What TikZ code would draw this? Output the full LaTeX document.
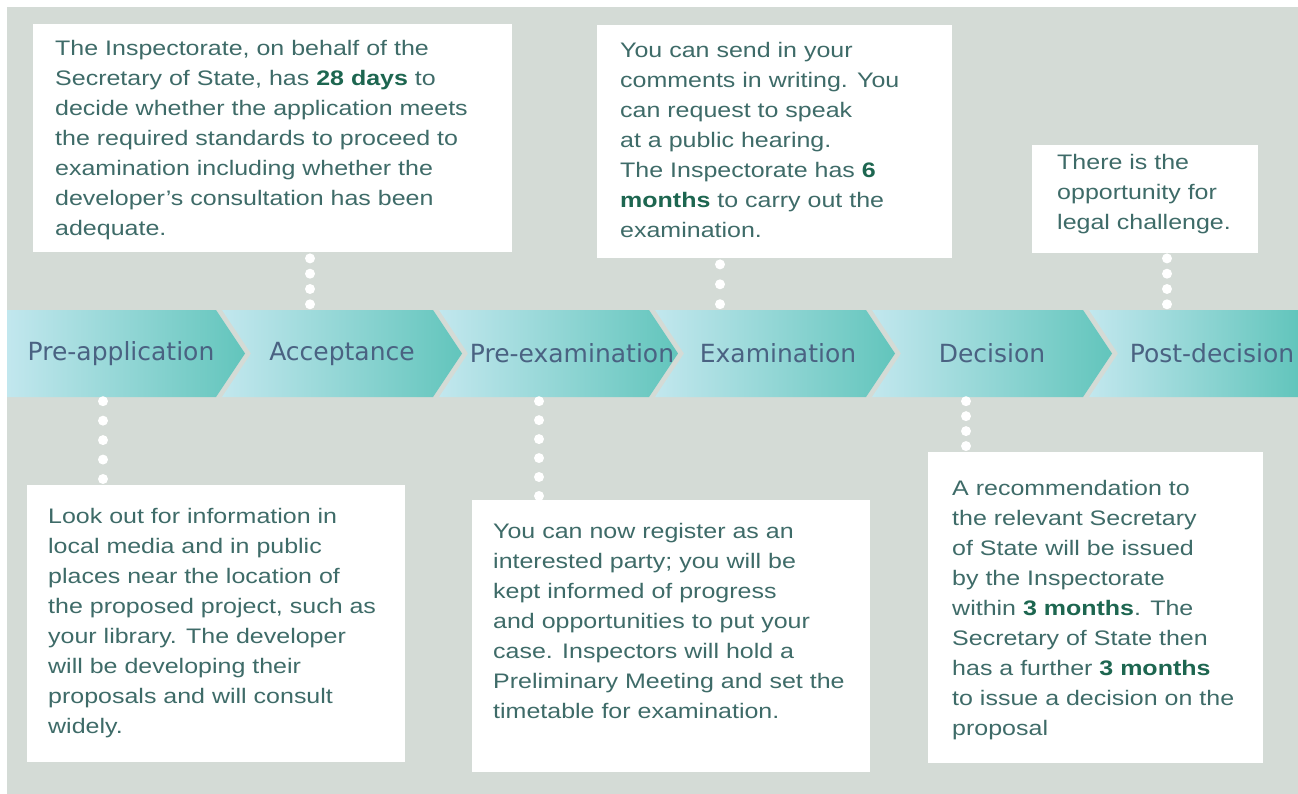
\documentclass[tikz,border=0pt]{standalone}
\usepackage{fontspec}
\setmainfont{Liberation Sans}[FakeStretch=1.19]
\newfontfamily\stagefont{DejaVu Sans}
\usepackage{tikz}
\usetikzlibrary{calc}

\definecolor{bgcol}{HTML}{D4DBD6}
\definecolor{chevlight}{HTML}{C2E7EE}
\definecolor{chevteal}{HTML}{62C5BC}
\definecolor{stagecol}{HTML}{4A6282}
\definecolor{txtcol}{HTML}{3E6B68}
\definecolor{boldcol}{HTML}{1D6650}

\newcommand{\keyterm}[1]{\textbf{\color{boldcol}#1}}

\tikzset{
  panel/.style={fill=white, inner sep=0pt, anchor=north west},
  blurb/.style={anchor=north west, inner sep=0pt, align=left, text=txtcol,
    font=\fontsize{21}{30}\selectfont},
  stage/.style={text=stagecol, font=\stagefont\fontsize{25}{30}\selectfont,
    minimum height=87pt, inner sep=0pt},
  chevron/.style={left color=chevlight, right color=chevteal},
  dotline/.style={white, line width=10pt, line cap=round, dash pattern=on 0pt off #1},
}

\begin{document}
\begin{tikzpicture}[x=1pt, y=-1pt]
\useasboundingbox (0,0) rectangle (1298,794);
% Background
\fill[bgcol] (7,7) rectangle (1298,794);

% Chevron band
\shade[chevron] (7,310) -- (216,310) -- (245,353.5) -- (216,397) -- (7,397) -- cycle;
\foreach \prev/\tip in {245/462, 462/678, 678/895, 895/1112} {
  \shade[chevron] (\prev-23,310) -- (\tip-29,310) -- (\tip,353.5) -- (\tip-29,397)
    -- (\prev-23,397) -- (\prev+6,353.5) -- cycle;
}
\shade[chevron] (1089,310) -- (1298,310) -- (1298,397) -- (1089,397) -- (1118,353.5) -- cycle;

% Stage labels
\foreach \name/\x/\txt in {preapp/121/Pre-application, acc/342/Acceptance,
    preexam/572/Pre-examination, exam/778/Examination, dec/992/Decision,
    post/1212/Post-decision} {
  \node[stage] (\name) at (\x,353.5) {\txt};
}

% Upper boxes
\node[panel, minimum width=479pt, minimum height=228pt] (accbox) at (33,24) {};
\node[blurb] (acctext) at (55,40) {The Inspectorate, on behalf of the\\
  Secretary of State, has \keyterm{28 days} to\\
  decide whether the application meets\\
  the required standards to proceed to\\
  examination including whether the\\
  developer's consultation has been\\
  adequate.};

\node[panel, minimum width=355pt, minimum height=233pt] (exambox) at (597,25) {};
\node[blurb] (examtext) at (620,42) {You can send in your\\
  comments in writing. You\\
  can request to speak\\
  at a public hearing.\\
  The Inspectorate has \keyterm{6}\\
  \keyterm{months} to carry out the\\
  examination.};

\node[panel, minimum width=226pt, minimum height=108pt] (postbox) at (1032,145) {};
\node[blurb] (posttext) at (1057,154) {There is the\\
  opportunity for\\
  legal challenge.};

% Lower boxes
\node[panel, minimum width=378pt, minimum height=277pt] (preappbox) at (27,485) {};
\node[blurb] (preapptext) at (48,508) {Look out for information in\\
  local media and in public\\
  places near the location of\\
  the proposed project, such as\\
  your library. The developer\\
  will be developing their\\
  proposals and will consult\\
  widely.};

\node[panel, minimum width=398pt, minimum height=272pt] (preexambox) at (472,500) {};
\node[blurb] (preexamtext) at (493,523) {You can now register as an\\
  interested party; you will be\\
  kept informed of progress\\
  and opportunities to put your\\
  case. Inspectors will hold a\\
  Preliminary Meeting and set the\\
  timetable for examination.};

\node[panel, minimum width=335pt, minimum height=311pt] (decbox) at (928,452) {};
\node[blurb] (dectext) at (952,480) {A recommendation to\\
  the relevant Secretary\\
  of State will be issued\\
  by the Inspectorate\\
  within \keyterm{3 months}. The\\
  Secretary of State then\\
  has a further \keyterm{3 months}\\
  to issue a decision on the\\
  proposal};

% Dotted links
\coordinate (acccol) at (310,0);
\coordinate (examcol) at (720,0);
\coordinate (postcol) at (1167,0);
\coordinate (preappcol) at (103,0);
\coordinate (preexamcol) at (539,0);
\coordinate (deccol) at (966,0);
\draw[dotline=15.3pt] ([yshift=-6pt]accbox.south -| acccol) -- ([yshift=3pt]acc.north -| acccol);
\draw[dotline=19.9pt] ([yshift=-6pt]exambox.south -| examcol) -- ([yshift=3pt]exam.north -| examcol);
\draw[dotline=15.3pt] ([yshift=-5pt]postbox.south -| postcol) -- ([yshift=3pt]post.north -| postcol);
\draw[dotline=19.45pt] ([yshift=-4pt]preapp.south -| preappcol) -- ([yshift=4pt]preappbox.north -| preappcol);
\draw[dotline=18.95pt] ([yshift=-4pt]preexam.south -| preexamcol) -- ([yshift=2pt]preexambox.north -| preexamcol);
\draw[dotline=14.95pt] ([yshift=-4pt]dec.south -| deccol) -- ([yshift=4pt]decbox.north -| deccol);
\end{tikzpicture}
\end{document}
